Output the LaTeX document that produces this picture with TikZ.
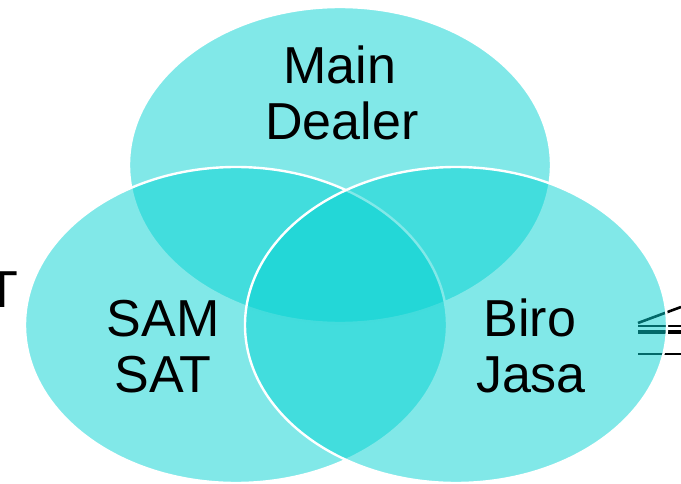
\documentclass[tikz,border=0pt]{standalone}
\usepackage{fontspec}
\setmainfont{Liberation Sans}
\definecolor{venn}{RGB}{4,210,210}
\tikzset{
  circ/.style={fill=venn, fill opacity=0.5, draw=white, line width=2.4pt},
  lbl/.style={anchor=base, inner sep=0pt, font=\fontsize{52}{56}\selectfont, text=black},
  edgestroke/.style={draw=black, line width=2.6pt},
}
\begin{document}
\begin{tikzpicture}[x=1pt,y=-1pt]
\useasboundingbox (0,0) rectangle (681,484);
% partial items at the edges
\node[lbl, anchor=base east] (t) at (18,307) {T};
\coordinate (m1a) at (638,323); \coordinate (m1b) at (681,307);
\coordinate (m2a) at (638,326); \coordinate (m2b) at (681,326);
\coordinate (m3a) at (638,332); \coordinate (m3b) at (681,332);
\coordinate (m4a) at (638,354); \coordinate (m4b) at (681,354);
\draw[edgestroke] (m1a) -- (m1b);
\draw[edgestroke, line width=1.6pt] (m2a) -- (m2b);
\draw[edgestroke, line width=3.4pt] (m3a) -- (m3b);
\draw[edgestroke] (m4a) -- (m4b);
% ellipses
\path[circ] (340,165) ellipse [x radius=211, y radius=158];
\path[circ] (236,325) ellipse [x radius=211, y radius=158];
\path[circ] (456,325) ellipse [x radius=211, y radius=158];
% labels
\node[lbl] (main) at (340,84) {Main};
\node[lbl] (dealer) at (342,140) {Dealer};
\node[lbl] (sam) at (163,337) {SAM};
\node[lbl] (sat) at (163,392) {SAT};
\node[lbl] (biro) at (530,337) {Biro};
\node[lbl] (jasa) at (531,392) {Jasa};
\end{tikzpicture}
\end{document}
